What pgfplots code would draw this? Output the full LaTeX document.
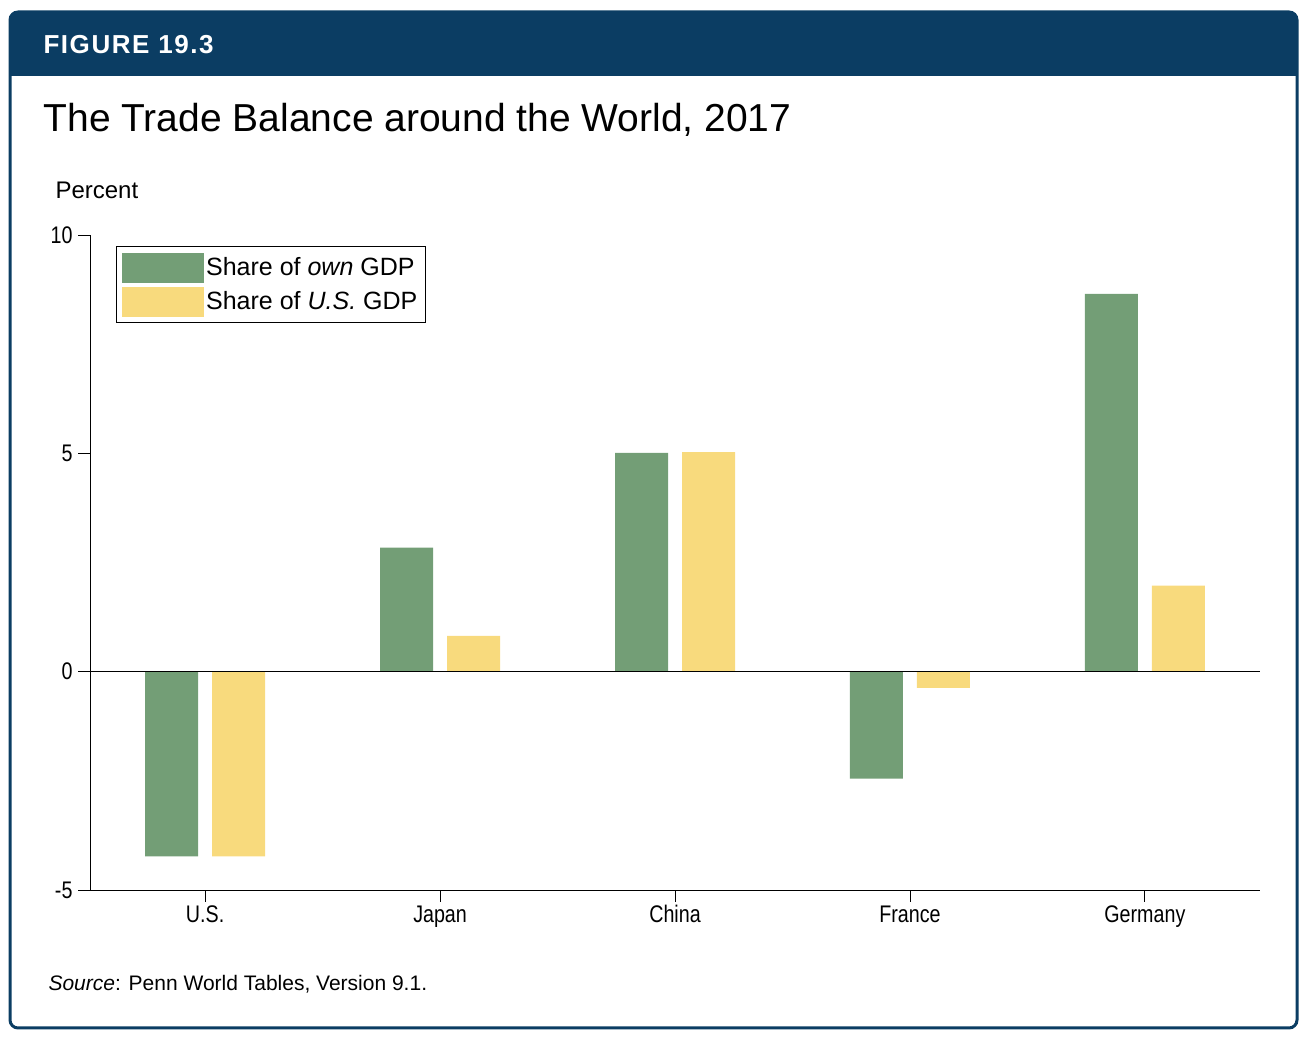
\documentclass[border=0pt]{standalone}
\usepackage{pgfplots}
\pgfplotsset{compat=1.18}
\usepackage{fontspec}
\setmainfont{Liberation Sans}
\newfontfamily\narrowfont[FakeStretch=0.82]{Liberation Sans}
\definecolor{hdr}{HTML}{0B3D63}
\definecolor{gr}{HTML}{739E76}
\definecolor{yl}{HTML}{F8DA7D}
\begin{document}
\begin{tikzpicture}[x=1pt,y=1pt]
\path[use as bounding box] (0,0) rectangle (1314,1040);
\fill[hdr,rounded corners=8pt] (10,964) rectangle (1297,1028);
\draw[hdr,line width=3pt,rounded corners=8pt] (10,12) rectangle (1297,1028);
\fill[hdr] (10,964) rectangle (1297,975);
\node[anchor=west,text=white,font=\fontsize{26}{30}\selectfont\bfseries\addfontfeatures{LetterSpace=6}] at (40,995) {FIGURE 19.3};
\node[anchor=west,font=\fontsize{39}{44}\selectfont] at (40,920) {The Trade Balance around the World, 2017};
\node[anchor=west,font=\fontsize{24}{28}\selectfont] at (52,850) {Percent};
\node[anchor=west,font=\fontsize{21}{26}\selectfont] at (45,56) {\textit{Source}: Penn World Tables, Version 9.1.};
\begin{axis}[at={(90pt,150pt)},anchor=south west,scale only axis,width=1170pt,height=655pt,
  xmin=-0.49,xmax=4.49,ymin=-5,ymax=10,
  axis x line*=bottom, axis y line*=left,
  ytick={-5,0,5,10}, xtick={0,1,2,3,4},
  xticklabels={U.S.,Japan,China,France,Germany},
  tick align=outside, major tick length=12pt,
  tick style={black,line width=0.8pt}, axis line style={line width=0.8pt},
  x axis line style={-}, y axis line style={-},
  every tick label/.append style={font=\narrowfont\fontsize{24}{28}\selectfont},
  yticklabel style={xshift=-2pt},
  /pgf/number format/assume math mode=true,
  ybar, bar width=53pt,
  legend style={at={(0.022,0.983)},anchor=north west,draw=black,line width=0.8pt,
    font=\fontsize{25}{30}\selectfont,inner sep=6pt,row sep=4pt,
    cells={anchor=west}},
  legend image code/.code={\fill[#1] (0pt,-15pt) rectangle (82pt,15pt);},
]
\addplot[fill=gr,draw=none,bar shift=-33.5pt] coordinates {(0,-4.23) (1,2.84) (2,5.01) (3,-2.45) (4,8.65)};
\addplot[fill=yl,draw=none,bar shift=33.5pt] coordinates {(0,-4.23) (1,0.82) (2,5.03) (3,-0.37) (4,1.97)};
\legend{Share of \textit{own} GDP,Share of \textit{U.S.} GDP}
\draw[black,line width=0.8pt] (axis cs:-0.49,0) -- (axis cs:4.49,0);
\end{axis}
\end{tikzpicture}
\end{document}
